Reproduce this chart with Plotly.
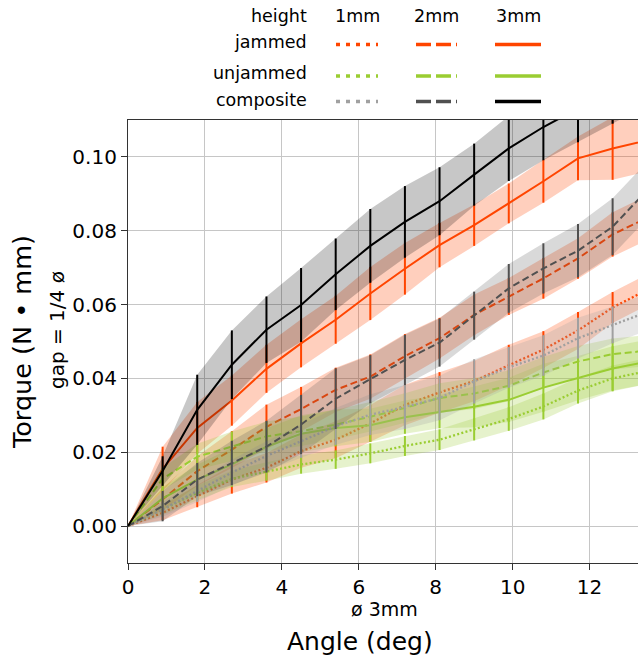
import plotly.graph_objects as go

# ---- data: torque vs. rotation angle, mean and standard deviation ----
angle = [0.0, 0.9, 1.8, 2.7, 3.6, 4.5, 5.4, 6.3, 7.2, 8.1, 9.0, 9.9, 10.8, 11.7, 12.6, 13.5]

jammed_1mm = [0, 0.0036, 0.0081, 0.0126, 0.0158, 0.0203, 0.0234, 0.0278, 0.0328, 0.0362,
              0.0393, 0.0436, 0.0478, 0.0530, 0.0592, 0.0640]
jammed_1mm_sd = [0, 0.002, 0.003, 0.0038, 0.004, 0.0045, 0.005, 0.005, 0.0055, 0.0055,
                 0.0055, 0.0055, 0.005, 0.005, 0.0042, 0.0042]

jammed_2mm = [0, 0.0072, 0.0149, 0.0207, 0.0269, 0.0317, 0.0369, 0.0405, 0.0460, 0.0509,
              0.0572, 0.0622, 0.0671, 0.0725, 0.0790, 0.0835]
jammed_2mm_sd = [0, 0.003, 0.004, 0.005, 0.006, 0.006, 0.006, 0.006, 0.006, 0.0055,
                 0.0055, 0.005, 0.0055, 0.0055, 0.006, 0.006]

jammed_3mm = [0, 0.0155, 0.0266, 0.0340, 0.0426, 0.0495, 0.0559, 0.0630, 0.0697, 0.0761,
              0.0815, 0.0874, 0.0934, 0.0996, 0.1023, 0.1045]
jammed_3mm_sd = [0, 0.006, 0.007, 0.0068, 0.0065, 0.0065, 0.0065, 0.0072, 0.007, 0.006,
                 0.0056, 0.0054, 0.0058, 0.0059, 0.0085, 0.0085]

unjammed_1mm = [0, 0.0045, 0.0090, 0.0128, 0.0148, 0.0167, 0.0180, 0.0197, 0.0217, 0.0234,
                0.0262, 0.0290, 0.0324, 0.0367, 0.0400, 0.0420]
unjammed_1mm_sd = [0, 0.0015, 0.002, 0.0022, 0.0025, 0.0025, 0.0025, 0.0027, 0.0027, 0.0028,
                   0.003, 0.0032, 0.0035, 0.0035, 0.0035, 0.0035]

unjammed_2mm = [0, 0.0128, 0.0188, 0.0216, 0.0243, 0.0257, 0.0275, 0.0296, 0.0320, 0.0347,
                0.0359, 0.0380, 0.0416, 0.0446, 0.0466, 0.0475]
unjammed_2mm_sd = [0, 0.003, 0.0035, 0.004, 0.004, 0.004, 0.004, 0.004, 0.004, 0.004,
                   0.0042, 0.0042, 0.0042, 0.0042, 0.0042, 0.0042]

unjammed_3mm = [0, 0.0075, 0.0126, 0.0167, 0.0215, 0.0250, 0.0266, 0.0273, 0.0295, 0.0310,
                0.0323, 0.0342, 0.0375, 0.0401, 0.0427, 0.0445]
unjammed_3mm_sd = [0, 0.003, 0.004, 0.0045, 0.005, 0.005, 0.005, 0.0045, 0.0045, 0.0045,
                   0.0055, 0.006, 0.0065, 0.006, 0.006, 0.006]

composite_1mm = [0, 0.0045, 0.0095, 0.0145, 0.0190, 0.0230, 0.0270, 0.0302, 0.0323, 0.0347,
                 0.0392, 0.0430, 0.0462, 0.0509, 0.0545, 0.0580]
composite_1mm_sd = [0, 0.002, 0.003, 0.0035, 0.004, 0.0045, 0.005, 0.0055, 0.006, 0.006,
                    0.006, 0.0055, 0.0055, 0.0055, 0.005, 0.005]

composite_2mm = [0, 0.0054, 0.0126, 0.0171, 0.0215, 0.0275, 0.0345, 0.0398, 0.0450, 0.0497,
                 0.0570, 0.0644, 0.0698, 0.0746, 0.0811, 0.0910]
composite_2mm_sd = [0, 0.0041, 0.0045, 0.006, 0.007, 0.008, 0.0082, 0.0065, 0.0068, 0.0065,
                    0.0065, 0.0066, 0.0068, 0.0072, 0.0077, 0.0077]

composite_3mm = [0, 0.0149, 0.0315, 0.0437, 0.0532, 0.0599, 0.0682, 0.0759, 0.0824, 0.0880,
                 0.0952, 0.1023, 0.1081, 0.1130, 0.1180, 0.1230]
composite_3mm_sd = [0, 0.004, 0.0095, 0.0093, 0.009, 0.01, 0.0097, 0.01, 0.0097, 0.0092,
                    0.0084, 0.0088, 0.009, 0.009, 0.009, 0.009]

heights = ["1mm", "2mm", "3mm"]
conditions = ["jammed", "unjammed", "composite"]
x_ticks = [0, 2, 4, 6, 8, 10, 12]
y_ticks = [0.00, 0.02, 0.04, 0.06, 0.08, 0.10]

# ---- styles ----
ORANGE = (255, 69, 0)
GREEN = (154, 205, 50)
GREY_LIGHT = (160, 160, 160)
GREY_DARK = (80, 80, 80)
BLACK = (0, 0, 0)

PLOT_DASH = {"1mm": "2px,2.3px", "2mm": "7px,3.6px", "3mm": "solid"}
KEY_DASH = {"1mm": "4px,6px", "2mm": "15px,5px", "3mm": "solid"}


def rgb(c):
    return "rgb(%d,%d,%d)" % c


def rgba(c, a):
    return "rgba(%d,%d,%d,%.3f)" % (c[0], c[1], c[2], a)


series = [
    ("jammed", "1mm", jammed_1mm, jammed_1mm_sd, ORANGE, 0.26),
    ("jammed", "2mm", jammed_2mm, jammed_2mm_sd, ORANGE, 0.26),
    ("jammed", "3mm", jammed_3mm, jammed_3mm_sd, ORANGE, 0.26),
    ("unjammed", "1mm", unjammed_1mm, unjammed_1mm_sd, GREEN, 0.25),
    ("unjammed", "2mm", unjammed_2mm, unjammed_2mm_sd, GREEN, 0.25),
    ("unjammed", "3mm", unjammed_3mm, unjammed_3mm_sd, GREEN, 0.25),
    ("composite", "1mm", composite_1mm, composite_1mm_sd, GREY_LIGHT, 0.25),
    ("composite", "2mm", composite_2mm, composite_2mm_sd, GREY_DARK, 0.22),
    ("composite", "3mm", composite_3mm, composite_3mm_sd, BLACK, 0.22),
]

FONT = "DejaVu Sans"
W, H = 638, 661
L, R, T, B = 128, 0, 120, 98

fig = go.Figure()

for cond, h, mean, sd, col, alpha in series:
    upper = [m + s for m, s in zip(mean, sd)]
    lower = [m - s for m, s in zip(mean, sd)]
    # shaded +/- one standard deviation band
    fig.add_trace(go.Scatter(
        x=angle + angle[::-1], y=upper + lower[::-1],
        fill="toself", fillcolor=rgba(col, alpha),
        line=dict(width=0), mode="lines",
        hoverinfo="skip", showlegend=False))
    # mean curve with vertical error bars
    fig.add_trace(go.Scatter(
        x=angle, y=mean, mode="lines",
        name=f"{cond} {h}",
        line=dict(color=rgb(col), width=2.3 if h == "1mm" else 2, dash=PLOT_DASH[h]),
        error_y=dict(type="data", array=sd, visible=True,
                     color=rgb(col), thickness=2, width=0),
        showlegend=False))


# ---- layout helpers: pixel position -> paper coordinates ----
def px(x):
    return (x - L) / (W - L - R)


def py(y):
    return (H - B - y) / (H - T - B)


annotations = []
shapes = []


def text(s, x, y, size, xanchor="center", angle=0):
    annotations.append(dict(
        text=s, x=px(x), y=py(y), xref="paper", yref="paper",
        xanchor=xanchor, yanchor="middle", textangle=angle, showarrow=False,
        borderpad=0,
        font=dict(family=FONT, size=size, color="black")))


# axis titles
text("Torque (N • mm)", 22, 342, 25.5, angle=-90)
text("gap = 1/4 ø", 57, 330, 20, angle=-90)
text("ø 3mm", 384, 609, 19)
text("Angle (deg)", 360, 641, 25)

# key table at the top
key_cols = {"1mm": (336, 378), "2mm": (416, 457), "3mm": (495, 541)}
key_rows = {"jammed": (42, 44.5), "unjammed": (73, 76), "composite": (100, 101.5)}
key_colors = {
    ("jammed", "1mm"): ORANGE, ("jammed", "2mm"): ORANGE, ("jammed", "3mm"): ORANGE,
    ("unjammed", "1mm"): GREEN, ("unjammed", "2mm"): GREEN, ("unjammed", "3mm"): GREEN,
    ("composite", "1mm"): GREY_LIGHT, ("composite", "2mm"): GREY_DARK, ("composite", "3mm"): BLACK,
}

text("height", 308, 16, 17.5, xanchor="right")
for h in heights:
    x0, x1 = key_cols[h]
    text(h, (x0 + x1) / 2, 16, 17.5)
for cond in conditions:
    ty, ly = key_rows[cond]
    text(cond, 308, ty, 17.5, xanchor="right")
    for h in heights:
        x0, x1 = key_cols[h]
        shapes.append(dict(
            type="line", xref="paper", yref="paper",
            x0=px(x0), x1=px(x1), y0=py(ly), y1=py(ly),
            line=dict(color=rgb(key_colors[(cond, h)]), width=3.6, dash=KEY_DASH[h])))

axis_common = dict(
    showgrid=True, gridcolor="#c6c6c6", gridwidth=1.2,
    zeroline=False, showline=True, linecolor="#333333", linewidth=1.2,
    ticks="outside", ticklen=6, tickwidth=1.2, tickcolor="#333333",
    tickfont=dict(family=FONT, size=20, color="black"),
)

fig.update_layout(
    width=W, height=H,
    margin=dict(l=L, r=R, t=T, b=B, pad=0),
    paper_bgcolor="white", plot_bgcolor="white",
    font=dict(family=FONT, color="black"),
    showlegend=False,
    xaxis=dict(range=[0, 13.26], tickvals=x_ticks, ticktext=[str(v) for v in x_ticks],
               mirror=True, **axis_common),
    yaxis=dict(range=[-0.01, 0.11], tickvals=y_ticks, tickformat=".2f",
               mirror=False, **axis_common),
    annotations=annotations,
    shapes=shapes,
)

fig.write_html("out.html")
